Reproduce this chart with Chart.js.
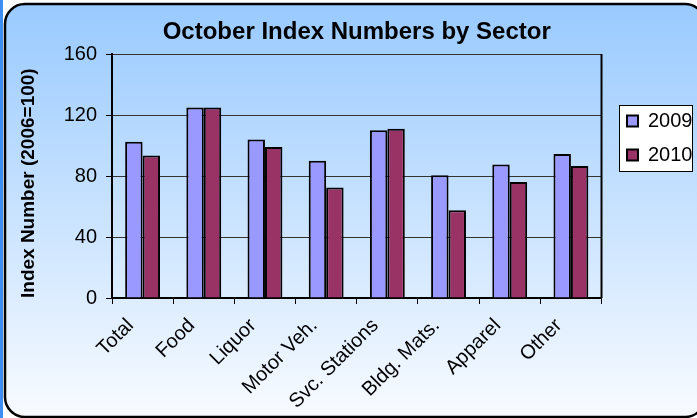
<!DOCTYPE html>
<html lang="en">
<head>
    <meta charset="UTF-8">
    <title>October Index Numbers by Sector</title>
    <script src="https://cdn.jsdelivr.net/npm/chart.js"></script>
    <style>
        html, body {
            margin: 0;
            padding: 0;
            background: #fff;
        }
        .wrap {
            width: 697px;
            height: 418px;
        }
    </style>
</head>
<body>
    <div class="wrap"><canvas id="sectorChart" width="697" height="418"></canvas></div>

    <script>
        // values
        const sectors = ['Total', 'Food', 'Liquor', 'Motor Veh.', 'Svc. Stations', 'Bldg. Mats.', 'Apparel', 'Other'];
        const index2009 = [102.5, 125, 104, 90, 110, 80.5, 87.5, 94.5];
        const index2010 = [93.5, 125, 99, 72.5, 111, 57.5, 76, 86.5];
        const yTicks = [0, 40, 80, 120, 160];

        const fontName = '"Liberation Sans", Arial, sans-serif';

        // rounded frame, gradient background and legend box
        const framePlugin = {
            id: 'frame',
            afterLayout(chart) {
                const lg = chart.legend;
                lg.left = 613;
                lg.right = 692;
                lg.top = 97;
                lg.bottom = 400;
            },
            beforeDraw(chart) {
                const ctx = chart.ctx;
                ctx.save();
                ctx.fillStyle = '#ffffff';
                ctx.fillRect(0, 0, chart.width, chart.height);
                ctx.fillStyle = '#3d8ef2';
                ctx.fillRect(0, 0, 3, chart.height);

                const grad = ctx.createLinearGradient(0, 4, 0, 418);
                grad.addColorStop(0, '#99caff');
                grad.addColorStop(1, '#f8fbff');
                ctx.beginPath();
                ctx.roundRect(5, 4, 700, 413, 20);
                ctx.fillStyle = grad;
                ctx.fill();
                ctx.lineWidth = 2.5;
                ctx.strokeStyle = '#000';
                ctx.stroke();

                // legend box
                ctx.fillStyle = '#ffffff';
                ctx.fillRect(619.5, 105.5, 73, 66);
                ctx.lineWidth = 1;
                ctx.strokeRect(619.5, 105.5, 73, 66);
                ctx.restore();
            },
            afterDraw(chart) {
                const a = chart.chartArea;
                const ctx = chart.ctx;
                ctx.save();
                ctx.strokeStyle = '#000';
                ctx.lineWidth = 2;
                ctx.beginPath();
                ctx.moveTo(a.right, a.top);
                ctx.lineTo(a.right, a.bottom);
                ctx.stroke();
                ctx.restore();
            }
        };

        const ctx = document.getElementById('sectorChart').getContext('2d');
        new Chart(ctx, {
            type: 'bar',
            data: {
                labels: sectors,
                datasets: [{
                    label: '2009',
                    data: index2009,
                    backgroundColor: '#9999ff',
                    borderColor: '#000',
                    borderWidth: 2
                }, {
                    label: '2010',
                    data: index2010,
                    backgroundColor: '#993366',
                    borderColor: '#000',
                    borderWidth: 2
                }]
            },
            options: {
                responsive: false,
                animation: false,
                devicePixelRatio: 1,
                layout: {
                    padding: { left: 10, right: 6, top: 0, bottom: 0 }
                },
                datasets: {
                    bar: {
                        categoryPercentage: 0.57,
                        barPercentage: 1.0
                    }
                },
                scales: {
                    x: {
                        afterFit(scale) { scale.height = 120; },
                        grid: {
                            drawOnChartArea: false,
                            drawTicks: true,
                            tickLength: 6,
                            color: '#000'
                        },
                        border: { color: '#000', width: 2 },
                        ticks: {
                            maxRotation: 45,
                            minRotation: 45,
                            color: '#000',
                            padding: 10,
                            labelOffset: -12,
                            font: { family: fontName, size: 20 }
                        }
                    },
                    y: {
                        min: yTicks[0],
                        max: yTicks[yTicks.length - 1],
                        afterFit(scale) { scale.width = 102; },
                        grid: {
                            color: '#333',
                            lineWidth: 1,
                            tickLength: 6,
                            tickColor: '#000'
                        },
                        border: { color: '#000', width: 2 },
                        ticks: {
                            stepSize: yTicks[1] - yTicks[0],
                            color: '#000',
                            padding: 9,
                            font: { family: fontName, size: 20 }
                        },
                        title: {
                            display: true,
                            text: 'Index Number (2006=100)',
                            align: 'start',
                            color: '#000',
                            padding: { top: 7, bottom: 0 },
                            font: { family: fontName, size: 19, weight: 'bold' }
                        }
                    }
                },
                plugins: {
                    title: {
                        display: true,
                        text: 'October Index Numbers by Sector',
                        fullSize: false,
                        color: '#000',
                        padding: { top: 18, bottom: 7.2 },
                        font: { family: fontName, size: 24, weight: 'bold' }
                    },
                    legend: {
                        display: true,
                        position: 'right',
                        align: 'start',
                        labels: {
                            color: '#000',
                            boxWidth: 11,
                            boxHeight: 11,
                            padding: 14,
                            font: { family: fontName, size: 20 }
                        }
                    },
                    tooltip: { enabled: false }
                }
            },
            plugins: [framePlugin]
        });
    </script>
</body>
</html>
